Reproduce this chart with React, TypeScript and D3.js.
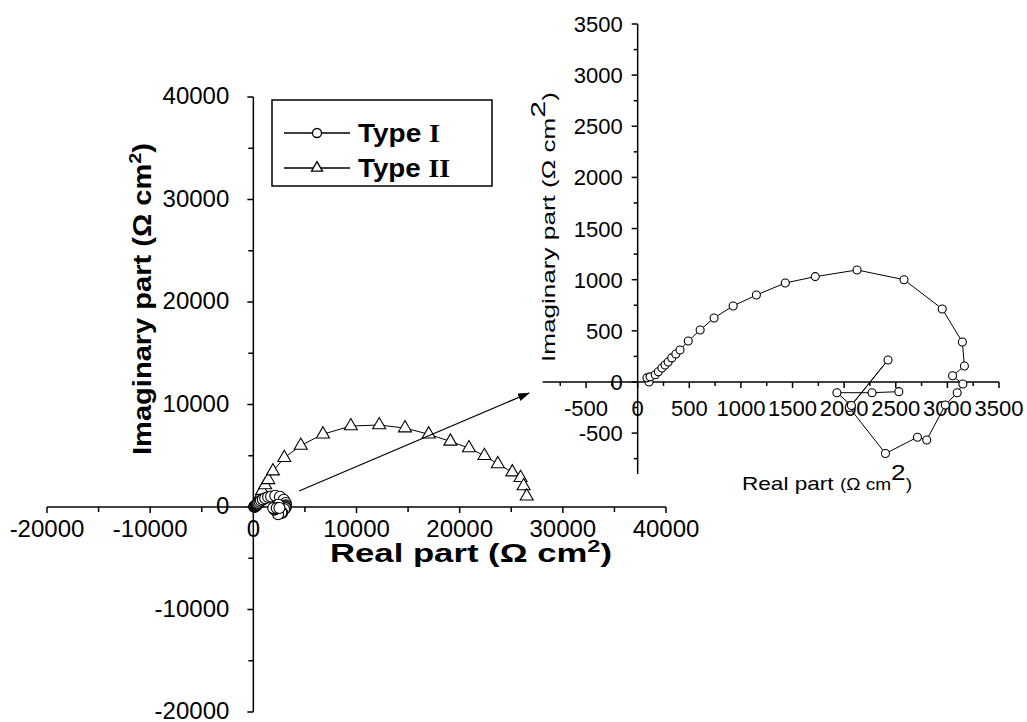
import React from "react";
import * as d3 from "d3";

// Type II impedance (main plot), real part and imaginary part in Ω cm²
const typeIIRe = [300, 600, 850, 1150, 1450, 1900, 3000, 4600, 6750, 9450, 12200, 14700, 17000, 19100, 20900, 22400, 23700, 25100, 25900, 26200, 26500];
const typeIIIm = [400, 1000, 1600, 2150, 2650, 3500, 4800, 6000, 7100, 7900, 8000, 7700, 7100, 6400, 5750, 5000, 4200, 3400, 2850, 2050, 1050];

// Type I impedance (drawn in both plots)
const typeIRe = [110, 90, 120, 170, 200, 235, 265, 295, 330, 370, 410, 490, 605, 740, 925, 1150, 1430, 1720, 2125, 2580, 2950, 3145, 3165, 3050, 3150, 3095, 2980, 2800, 2710, 2400, 2050, 2425, 2070, 1930, 2270, 2530];
const typeIIm = [0, 40, 50, 70, 100, 137, 166, 195, 235, 274, 313, 400, 508, 626, 743, 850, 968, 1030, 1095, 1000, 714, 390, 156, 60, -20, -105, -225, -567, -540, -700, -250, 215, -230, -105, -105, -95];

// Axis ticks
const mainMajorTicks = [-20000, -10000, 0, 10000, 20000, 30000, 40000];
const mainMinorTicks = [-15000, -5000, 5000, 15000, 25000, 35000];
const insetXMajorTicks = [-500, 0, 500, 1000, 1500, 2000, 2500, 3000, 3500];
const insetXMinorTicks = [-750, -250, 250, 750, 1250, 1750, 2250, 2750, 3250];
const insetYMajorTicks = [-500, 0, 500, 1000, 1500, 2000, 2500, 3000, 3500];
const insetYMinorTicks = [-750, -250, 250, 750, 1250, 1750, 2250, 2750, 3250];

// Arrow pointing from the small loop to the enlarged view (main-plot units)
const arrowFrom = [4430, 1560];
const arrowTo = [26720, 11120];

const legendLabels = [
  { base: "Type ", roman: "I", marker: "circle" },
  { base: "Type ", roman: "II", marker: "triangle" },
];

const SANS = "'Liberation Sans', Arial, Helvetica, sans-serif";
const SERIF = "'Liberation Serif', 'Times New Roman', serif";

function triPath(cx: number, cy: number, s: number) {
  const h = s * 0.866;
  return `M${cx},${cy - (2 * h) / 3}L${cx + s / 2},${cy + h / 3}L${cx - s / 2},${cy + h / 3}Z`;
}

export default function App() {
  const mx = d3.scaleLinear().domain([-20000, 40000]).range([47, 666]);
  const my = d3.scaleLinear().domain([-20000, 40000]).range([712, 97]);
  const ix = d3.scaleLinear().domain([-920, 3500]).range([542.7, 999]);
  const iy = d3.scaleLinear().domain([-900, 3500]).range([474, 24]);

  const line = d3.line<[number, number]>();

  const mainTypeII = typeIIRe.map((v, i) => [mx(v), my(typeIIIm[i])] as [number, number]);
  const mainTypeI = typeIRe.map((v, i) => [mx(v), my(typeIIm[i])] as [number, number]);
  const insetTypeI = typeIRe.map((v, i) => [ix(v), iy(typeIIm[i])] as [number, number]);

  const ax = "#000";
  const axW = 1.5;

  return (
    <svg width={1027} height={722} style={{ display: "block", position: "absolute", left: 0, top: 0, background: "#fff" }}>
      <defs>
        <marker id="arrowHead" viewBox="0 0 12 8" refX="11" refY="4" markerWidth="12" markerHeight="8" markerUnits="userSpaceOnUse" orient="auto">
          <path d="M0,0L12,4L0,8Z" fill="#000" />
        </marker>
      </defs>
      <rect x={0} y={0} width={1027} height={722} fill="#fff" />

      {/* Main axes */}
      <g stroke={ax} strokeWidth={axW} fill="none">
        <line x1={mx(-20000)} x2={mx(40000)} y1={my(0)} y2={my(0)} />
        <line x1={mx(0)} x2={mx(0)} y1={my(40000)} y2={my(-20000)} />
        {mainMajorTicks.map((t) => (
          <line key={"mxt" + t} x1={mx(t)} x2={mx(t)} y1={my(0)} y2={my(0) + 6} />
        ))}
        {mainMinorTicks.map((t) => (
          <line key={"mxm" + t} x1={mx(t)} x2={mx(t)} y1={my(0)} y2={my(0) + 5} />
        ))}
        {mainMajorTicks.map((t) => (
          <line key={"myt" + t} x1={mx(0) - 6} x2={mx(0)} y1={my(t)} y2={my(t)} />
        ))}
        {mainMinorTicks.map((t) => (
          <line key={"mym" + t} x1={mx(0) - 5} x2={mx(0)} y1={my(t)} y2={my(t)} />
        ))}
      </g>
      <g fontFamily={SANS} fontSize={24} fill="#000">
        {mainMajorTicks.map((t) => (
          <text key={"mxl" + t} x={mx(t)} y={my(0) + 30} textAnchor="middle">{t}</text>
        ))}
        {mainMajorTicks.map((t) => (
          <text key={"myl" + t} x={mx(0) - 24} y={my(t) + 7} textAnchor="end">{t}</text>
        ))}
      </g>

      {/* Main axis titles */}
      <text x={330} y={562} fontFamily={SANS} fontWeight="bold" fontSize={25} fill="#000" textLength={282} lengthAdjust="spacingAndGlyphs">
        Real part (Ω cm<tspan dy={-10} fontSize={17}>2</tspan><tspan dy={10}>)</tspan>
      </text>
      <text transform="translate(151,299) rotate(-90)" textAnchor="middle" fontFamily={SANS} fontWeight="bold" fontSize={25} fill="#000" textLength={312} lengthAdjust="spacingAndGlyphs">
        Imaginary part (Ω cm<tspan dy={-10} fontSize={17}>2</tspan><tspan dy={10}>)</tspan>
      </text>

      {/* Main data */}
      <path d={line(mainTypeII) || ""} fill="none" stroke="#000" strokeWidth={1} />
      <path d={line(mainTypeI) || ""} fill="none" stroke="#000" strokeWidth={1} />
      {mainTypeII.map(([x, y], i) => (
        <path key={"t2" + i} d={triPath(x, y, 13)} fill="#fff" stroke="#000" strokeWidth={1.1} />
      ))}
      {mainTypeI.map(([x, y], i) => (
        <circle key={"t1" + i} cx={x} cy={y} r={5.5} fill="#fff" stroke="#000" strokeWidth={1.1} />
      ))}

      {/* Arrow */}
      <line x1={mx(arrowFrom[0])} y1={my(arrowFrom[1])} x2={mx(arrowTo[0])} y2={my(arrowTo[1])} stroke="#000" strokeWidth={1.3} markerEnd="url(#arrowHead)" />

      {/* Legend */}
      <rect x={272} y={100} width={220} height={86} fill="#fff" stroke="#000" strokeWidth={1.5} />
      {legendLabels.map((d, i) => {
        const y = 133 + i * 35;
        return (
          <g key={"lg" + i}>
            <line x1={284} x2={350} y1={y} y2={y} stroke="#000" strokeWidth={1.5} />
            {d.marker === "circle" ? (
              <circle cx={317} cy={y} r={4.5} fill="#fff" stroke="#000" strokeWidth={1.3} />
            ) : (
              <path d={triPath(317, y, 11)} fill="#fff" stroke="#000" strokeWidth={1.3} />
            )}
            <text x={358} y={y + 9} fontFamily={SANS} fontWeight="bold" fontSize={25} fill="#000" textLength={i === 0 ? 82 : 92} lengthAdjust="spacingAndGlyphs">
              {d.base}
              <tspan fontFamily={SERIF}>{d.roman}</tspan>
            </text>
          </g>
        );
      })}

      {/* Inset axes */}
      <g stroke={ax} strokeWidth={axW} fill="none">
        <line x1={ix(-920)} x2={ix(3500)} y1={iy(0)} y2={iy(0)} />
        <line x1={ix(0)} x2={ix(0)} y1={iy(3500)} y2={iy(-900)} />
        {insetXMajorTicks.map((t) => (
          <line key={"ixt" + t} x1={ix(t)} x2={ix(t)} y1={iy(0)} y2={iy(0) + 6} />
        ))}
        {insetXMinorTicks.map((t) => (
          <line key={"ixm" + t} x1={ix(t)} x2={ix(t)} y1={iy(0)} y2={iy(0) + 4} />
        ))}
        {insetYMajorTicks.map((t) => (
          <line key={"iyt" + t} x1={ix(0) - 6} x2={ix(0)} y1={iy(t)} y2={iy(t)} />
        ))}
        {insetYMinorTicks.map((t) => (
          <line key={"iym" + t} x1={ix(0) - 4} x2={ix(0)} y1={iy(t)} y2={iy(t)} />
        ))}
      </g>
      <g fontFamily={SANS} fontSize={22} fill="#000">
        {insetXMajorTicks.map((t) => (
          <text key={"ixl" + t} x={ix(t)} y={iy(0) + 34} textAnchor="middle">{t}</text>
        ))}
        {insetYMajorTicks.map((t) => (
          <text key={"iyl" + t} x={ix(0) - 15} y={iy(t) + 8} textAnchor="end">{t}</text>
        ))}
      </g>

      {/* Inset axis titles */}
      <text x={742} y={490} fontFamily={SANS} fontSize={19} fill="#000" textLength={170} lengthAdjust="spacingAndGlyphs">
        Real part <tspan fontSize={16}>(Ω cm</tspan><tspan dy={-10} fontSize={22}>2</tspan><tspan dy={10} fontSize={16}>)</tspan>
      </text>
      <text transform="translate(555,227) rotate(-90)" textAnchor="middle" fontFamily={SANS} fontSize={18} fill="#000" textLength={270} lengthAdjust="spacingAndGlyphs">
        Imaginary part (Ω cm<tspan dy={-10} fontSize={21}>2</tspan><tspan dy={10}>)</tspan>
      </text>

      {/* Inset data */}
      <path d={line(insetTypeI) || ""} fill="none" stroke="#000" strokeWidth={1} />
      {insetTypeI.map(([x, y], i) => (
        <circle key={"i1" + i} cx={x} cy={y} r={4} fill="#fff" stroke="#000" strokeWidth={1.1} />
      ))}
    </svg>
  );
}
